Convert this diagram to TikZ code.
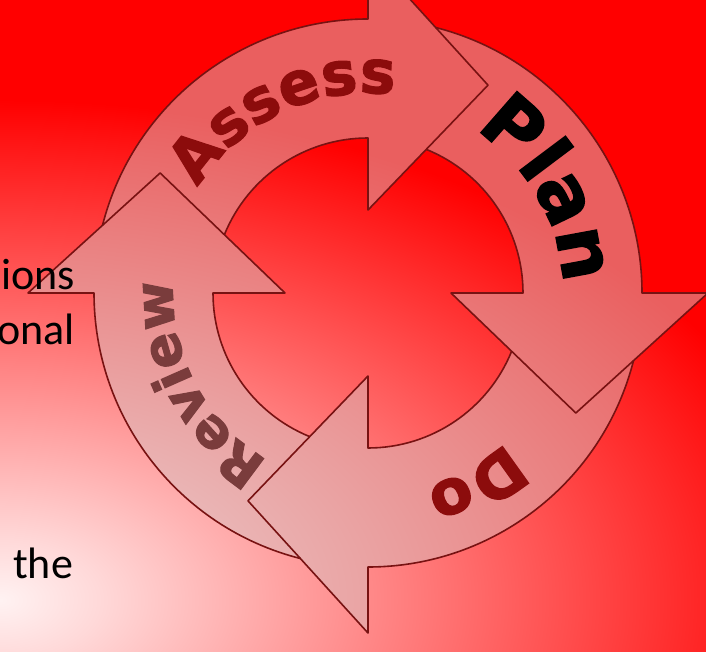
\documentclass[tikz,border=0pt]{standalone}
\usepackage{fontspec}
\setmainfont{Carlito}
\newfontfamily\cyclefont{DejaVu Sans}[BoldFeatures={FakeBold=2}]
\usetikzlibrary{decorations.text}
\definecolor{ringline}{RGB}{120,18,18}
\definecolor{ringpink}{RGB}{215,190,190}
\definecolor{wordred}{RGB}{140,12,12}
\definecolor{wordbrown}{RGB}{122,60,60}
\pgfdeclareradialshading{glow}{\pgfpoint{0bp}{0bp}}{color(0bp)=(white!95!red); color(3bp)=(white!85!red); color(25bp)=(red); color(50bp)=(red)}

\begin{document}
\begin{tikzpicture}[x=1pt,y=1pt,
  edge/.style={draw=ringline,line width=1.6pt,line join=round},
  word/.style={decorate,decoration={text along path,text align=center,text color=#1}},
  side/.style={font=\fontsize{44}{53}\selectfont,inner sep=0pt}]
\useasboundingbox (0,0) rectangle (706,651);
\clip (0,0) rectangle (706,651);
\fill[red] (0,0) rectangle (706,651);
\shade[shading=glow] (0,51) ellipse (830 and 500);
\begin{scope}[shift={(368,358)}]
\begin{scope}[transparency group,opacity=.5]
\foreach \a in {90,0,-90,180}{
  \fill[ringpink] ({\a+80}:274) arc[start angle=\a+80,end angle=\a,radius=274]
    -- (\a:155) arc[start angle=\a,end angle=\a+80,radius=155] -- cycle;
  \fill[ringpink] (\a:340) -- ({\a-30}:240) -- (\a:83) -- cycle;
}
\end{scope}
\foreach \a in {90,0,-90,180}
  \draw[edge] ({\a+75.7}:274) arc[start angle=\a+75.7,end angle=\a,radius=274]
    -- (\a:340) -- ({\a-30}:240) -- (\a:83) -- (\a:155)
    arc[start angle=\a,end angle=\a+67.9,radius=155];
\path[word=wordred,decoration={text={|\cyclefont\bfseries\fontsize{60}{70}\selectfont|Assess}}]
  (165:200) arc[start angle=165,end angle=65.5,radius=200];
\path[word=black,decoration={text={|\cyclefont\bfseries\fontsize{75}{85}\selectfont|Plan}}]
  (70:195) arc[start angle=70,end angle=-10.5,radius=195];
\path[word=wordred,decoration={text={|\cyclefont\bfseries\fontsize{62}{70}\selectfont|Do}}]
  (-30:203) arc[start angle=-30,end angle=-90.9,radius=203];
\path[word=wordbrown,decoration={text={|\cyclefont\bfseries\fontsize{53}{60}\selectfont|Review}}]
  (250:195) arc[start angle=250,end angle=165.5,radius=195];
\end{scope}
\node[side,anchor=base east] (ions) at (75,361) {ions};
\node[side,anchor=base east] (onal) at (75,306) {onal};
\node[side,anchor=base west] (the) at (13,73) {the};
\end{tikzpicture}
\end{document}
